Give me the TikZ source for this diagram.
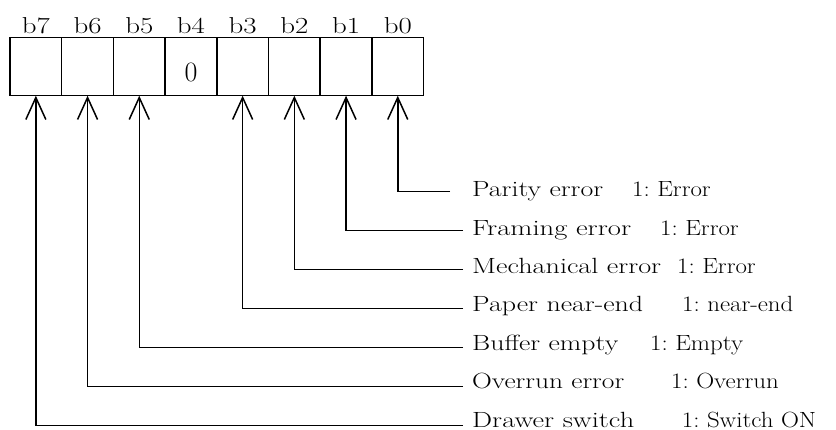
\documentclass[tikz,border=0pt]{standalone}
\usepackage{graphicx}
\usetikzlibrary{arrows.meta}
\frenchspacing
% set a text at a given width, keeping its height
\newcommand{\fitw}[2]{\resizebox{#1pt}{\height}{#2}}
% widen a text horizontally, keeping its height
\newcommand{\wide}[1]{\scalebox{1.13}[1]{#1}}
\begin{document}
\begin{tikzpicture}[x=1pt,y=-1pt,
  txt/.style={font=\fontsize{22}{26}\selectfont, inner sep=0pt},
  bitbox/.style={draw, line width=1.5pt, minimum width=51.7pt, minimum height=58.4pt,
    inner sep=0pt, outer sep=0pt},
  bitlabel/.style={font=\fontsize{23}{27}\selectfont, inner sep=0pt, anchor=base},
  desc/.style={txt, anchor=base west},
  link/.style={line width=1.5pt, -{Straight Barb[length=22pt,width=20pt,line width=1.5pt]}}
]
\useasboundingbox (0,0) rectangle (836,430);

% register cells, b7 on the left
\foreach \n [count=\i from 0] in {7,6,5,4,3,2,1,0} {
  \node[bitbox] (b\n) at ({35.85+51.7*\i},66.5) {};
  \node[bitlabel] (t\n) at ({35.85+51.7*\i},33.3) {\fitw{28}{b\n}};
}
\node[anchor=base, inner sep=0pt, font=\fontsize{28}{32}\selectfont] (zero) at (191.1,81.7) {0};

% bit descriptions with their connectors
\foreach \n/\y/\by/\name/\nw/\val/\vx/\ex in {
  0/191.7/196.7/Parity error/131/1: Error/632/450,
  1/230.7/235.1/Framing error/159/1: Error/660/463,
  2/269.5/273.6/Mechanical error/189/1: Error/677/463,
  3/308.7/312.0/Paper near-end/171/1: near-end/682/463,
  5/347.7/350.4/Buffer empty/146/1: Empty/650/463,
  6/386.7/388.9/Overrun error/152/1: Overrun/671/463,
  7/425.7/427.3/Drawer switch/162/1: Switch ON/681.7/463} {
  \node[desc] (d\n) at (472,\by) {\fitw{\nw}{\name}};
  \node[desc] (v\n) at (\vx,\by) {\wide{\val}};
  \coordinate (e\n) at (\ex,\y);
  \draw[link] (e\n) -| (b\n.south);
}
\end{tikzpicture}
\end{document}
